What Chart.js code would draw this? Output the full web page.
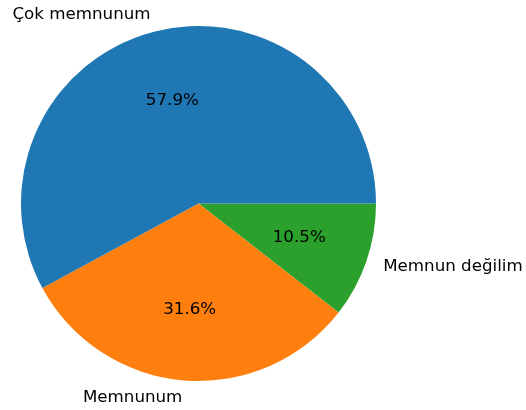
<!DOCTYPE html>
<html>
<head>
<meta charset="utf-8">
<script src="https://cdn.jsdelivr.net/npm/chart.js@4/dist/chart.umd.min.js"></script>
<style>
  html, body { margin: 0; padding: 0; background: #fff; }
  #wrap { width: 526px; height: 410px; }
</style>
</head>
<body>
<div id="wrap"><canvas id="pie" width="526" height="410"></canvas></div>
<script>
// matplotlib draws counter-clockwise from 3 o'clock; Chart.js goes clockwise,
// so the slices are listed in reverse order
const labels = ['Memnun değilim', 'Memnunum', 'Çok memnunum'];
const counts = [2, 6, 11];
const colors = ['#2ca02c', '#ff7f0e', '#1f77b4'];

const FONT = '16.7px "DejaVu Sans", sans-serif';

const pieLabels = {
  id: 'pieLabels',
  afterDatasetsDraw(chart) {
    const ctx = chart.ctx;
    const meta = chart.getDatasetMeta(0);
    const total = counts.reduce((a, b) => a + b, 0);
    ctx.save();
    ctx.font = FONT;
    ctx.fillStyle = '#000';
    ctx.textBaseline = 'middle';
    meta.data.forEach((arc, i) => {
      const p = arc.getProps(['x', 'y', 'startAngle', 'endAngle', 'outerRadius'], true);
      const mid = (p.startAngle + p.endAngle) / 2;
      const cx = Math.cos(mid), cy = Math.sin(mid);

      // percentage inside at 0.6 r
      ctx.textAlign = 'center';
      const pct = (counts[i] / total * 100).toFixed(1) + '%';
      ctx.fillText(pct, p.x + cx * p.outerRadius * 0.6, p.y + cy * p.outerRadius * 0.6);

      // category label outside at 1.1 r
      ctx.textAlign = cx > 0 ? 'left' : 'right';
      ctx.fillText(labels[i], p.x + cx * p.outerRadius * 1.1, p.y + cy * p.outerRadius * 1.1);
    });
    ctx.restore();
  }
};

new Chart(document.getElementById('pie'), {
  type: 'pie',
  data: {
    labels: labels,
    datasets: [{
      data: counts,
      backgroundColor: colors,
      borderWidth: 0,
    }],
  },
  options: {
    responsive: false,
    animation: false,
    rotation: 90,
    layout: { padding: { left: 21, right: 150, top: 26, bottom: 29 } },
    plugins: {
      legend: { display: false },
      tooltip: { enabled: false },
    },
  },
  plugins: [pieLabels],
});
</script>
</body>
</html>
